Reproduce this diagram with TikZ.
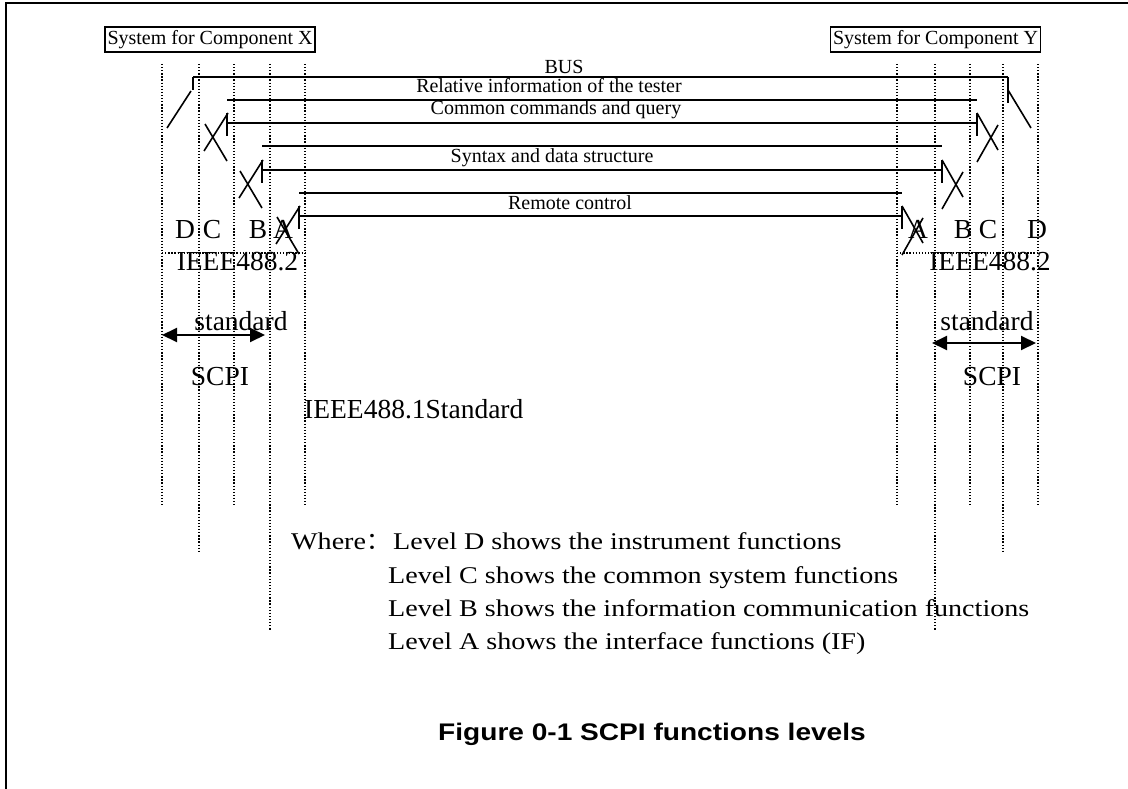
\documentclass[tikz,border=0pt]{standalone}
\usepackage{fontspec}
\setmainfont{Liberation Serif}
\newfontfamily\widefont[FakeStretch=1.17]{Liberation Serif}
\newfontfamily\capfont[FakeStretch=1.17]{Liberation Sans}
\newfontfamily\cjk{Noto Sans CJK SC}
\usetikzlibrary{arrows.meta}

\begin{document}
\begin{tikzpicture}[x=1pt, y=-1pt, >={Triangle[length=15pt,width=14pt]},
    font=\fontsize{20}{22}\selectfont,
    txt/.style={inner sep=0pt, anchor=base},
    big/.style={txt, font=\fontsize{27.5}{30}\selectfont},
    where/.style={inner sep=0pt, anchor=base west, font=\widefont\fontsize{24}{28}\selectfont},
    sysbox/.style={draw, line width=1.6pt, inner xsep=2.5pt, inner ysep=3pt, text height=14pt, text depth=4.5pt},
    lvl/.style={line width=1.3pt, dash pattern=on 1.3pt off 1.8pt},
    wire/.style={line width=1.5pt},
    sw/.style={line width=1.6pt},
    dbl/.style={line width=2pt, <->}]

  \useasboundingbox (0,0) rectangle (1128,789);
  % page frame, open at right and bottom
  \draw[line width=2pt] (6,789) -- (6,3) -- (1128,3);

  % the two systems
  \node[sysbox] (sysX) at (210,39.5) {System for Component X};
  \node[sysbox] (sysY) at (935.5,39.5) {System for Component Y};

  % level borders
  \foreach \x/\yend in {162/505,199/553,234/505,270/630,305/505,897/505,935/630,970/505,1003/553,1038/505}
    \draw[lvl] (\x,64) -- (\x,\yend);
  \draw[lvl] (162,253) -- (305,253);
  \draw[lvl] (897,253) -- (1038,253);

  % level D: the bus and its two switches
  \coordinate (busL) at (193,77);
  \coordinate (busR) at (1008,77);
  \draw[wire] (busL) -- (busR);
  \draw[sw] (busL) -- ++(0,13);
  \draw[sw] (167,128) -- (191,91);
  \draw[sw] (busR) -- ++(0,26);
  \draw[sw] (1008,90) -- (1031,128);
  \node[txt] (bus) at (564,74) {BUS};

  % levels C, B, A: a plain line and a switched line each
  \foreach \n/\lx/\rx/\ya/\yb in {C/227/977/100/123, B/262/942/146/170, A/299/902/193/216} {
    \coordinate (\n-tl) at (\lx,\ya);
    \coordinate (\n-tr) at (\rx,\ya);
    \coordinate (\n-l) at (\lx,\yb);
    \coordinate (\n-r) at (\rx,\yb);
    \draw[wire] (\n-tl) -- (\n-tr);
    \draw[wire] (\n-l) -- (\n-r);
    % left switch
    \draw[sw] (\lx,\yb-10) -- (\lx,\yb+13);
    \draw[sw] (\lx-23,\yb+28) -- (\lx+1,\yb-10);
    \draw[sw] (\lx-22,\yb+1) -- (\lx,\yb+38);
    % right switch
    \draw[sw] (\rx,\yb-10) -- (\rx,\yb+13);
    \draw[sw] (\rx,\yb-10) -- (\rx+21,\yb+27);
    \draw[sw] (\rx+21,\yb+2) -- (\rx,\yb+39);
  }
  \node[txt] (rel) at (549,93) {Relative information of the tester};
  \node[txt] (cmd) at (556,115) {Common commands and query};
  \node[txt] (syn) at (552,163) {Syntax and data structure};
  \node[txt] (rem) at (570,209) {Remote control};

  % level letters
  \foreach \t/\x in {D/185,C/212,B/258,A/283,A/918,B/963,C/988,D/1037}
    \node[big] (lab\x) at (\x,238) {\t};

  % standards
  \node[big] (ieL) at (237.5,270) {IEEE488.2};
  \node[big] (ieR) at (990,270) {IEEE488.2};
  \node[big] (stL) at (241,330) {standard};
  \node[big] (stR) at (987,330) {standard};
  \node[big] (scL) at (220,385) {SCPI};
  \node[big] (scR) at (992,385) {SCPI};
  \coordinate (aL1) at (162,335);
  \coordinate (aL2) at (265,335);
  \coordinate (aR1) at (932,343);
  \coordinate (aR2) at (1036,343);
  \draw[dbl] (aL1) -- (aL2);
  \draw[dbl] (aR1) -- (aR2);
  \node[big, anchor=base west] (ie1) at (304,418) {IEEE488.1Standard};

  % legend
  \node[where] (wh) at (291,549) {Where{\cjk ：}};
  \node[where] (lvD) at (393,549) {Level D shows the instrument functions};
  \node[where] (lvC) at (388,583) {Level C shows the common system functions};
  \node[where] (lvB) at (388,616) {Level B shows the information communication functions};
  \node[where] (lvA) at (388,649) {Level A shows the interface functions (IF)};

  \node[txt, font=\capfont\bfseries\fontsize{24}{28}\selectfont] (cap) at (652,740) {Figure 0-1 SCPI functions levels};
\end{tikzpicture}
\end{document}
